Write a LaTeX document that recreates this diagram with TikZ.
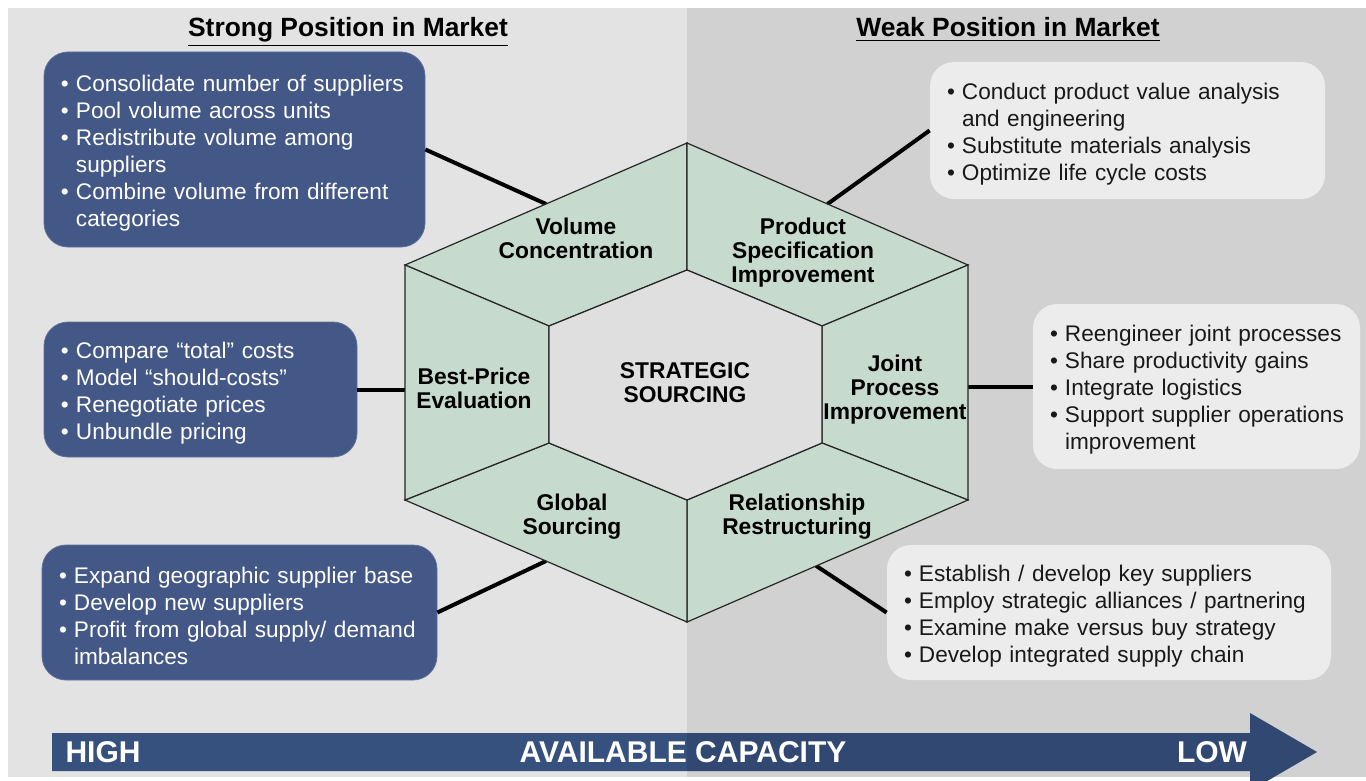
\documentclass[tikz,border=0pt]{standalone}
\usepackage{fontspec}
\setmainfont{Liberation Sans}
\usetikzlibrary{calc}

\definecolor{bgleft}{HTML}{E3E3E3}
\definecolor{bgright}{HTML}{D1D1D1}
\definecolor{boxblue}{HTML}{445887}
\definecolor{boxgray}{HTML}{ECECEC}
\definecolor{hexgreen}{HTML}{C6DACE}
\definecolor{hexcore}{HTML}{DFDFDF}
\definecolor{arrowblue}{HTML}{37517F}

% bullet line and indented continuation line
\newcommand\bitem[1]{\mbox{\makebox[7.5pt][l]{•}#1}}
\newcommand\bcont[1]{\mbox{\hspace*{7.5pt}#1}}

\begin{document}
\begin{tikzpicture}[x=0.5pt,y=-0.5pt,
  darkbox/.style={rounded corners=12pt,fill=boxblue,draw=boxblue!85!white,text=white,
    align=left,inner xsep=8.5pt,font=\fontsize{11.3}{13.5}\selectfont,
    execute at begin node={\rule{0pt}{11.8pt}}},
  lightbox/.style={darkbox,fill=boxgray,draw=none,text=black!90},
  seg/.style={fill=hexgreen,draw=black!85,line width=0.6pt},
  hexlabel/.style={align=center,font=\bfseries\fontsize{11.4}{12}\selectfont},
  link/.style={line width=2pt,black},
  title/.style={anchor=base,font=\bfseries\fontsize{13.2}{15}\selectfont},
  scale label/.style={text=white,font=\bfseries\fontsize{15}{17}\selectfont}]
\useasboundingbox (0,0) rectangle (1366,781);
\fill[white] (0,0) rectangle (1366,781);

% two market halves
\fill[bgleft] (8,8) rectangle (687,777);
\fill[bgright] (687,8) rectangle (1366,777);
\node[title] (strong) at (348,37) {\underline{Strong Position in Market}};
\node[title] (weak) at (1008,37) {\underline{Weak Position in Market}};

% lever boxes
\node[darkbox,text width=173.5pt,minimum height=97.5pt] (boxA) at (234.5,149.5)
  {\bitem{Consolidate number of suppliers}\\\bitem{Pool volume across units}\\
   \bitem{Redistribute volume among}\\\bcont{suppliers}\\
   \bitem{Combine volume from different}\\\bcont{categories}};
\node[darkbox,text width=139.5pt,minimum height=67.5pt] (boxB) at (200.5,389.5)
  {\bitem{Compare “total” costs}\\\bitem{Model “should-costs”}\\
   \bitem{Renegotiate prices}\\\bitem{Unbundle pricing}};
\node[darkbox,text width=180.5pt,minimum height=67.5pt] (boxC) at (239.5,612.5)
  {\bitem{Expand geographic supplier base}\\\bitem{Develop new suppliers}\\
   \bitem{Profit from global supply/ demand}\\\bcont{imbalances}};
\node[lightbox,text width=180.5pt,minimum height=68.5pt] (boxD) at (1127.5,130.5)
  {\bitem{Conduct product value analysis}\\\bcont{and engineering}\\
   \bitem{Substitute materials analysis}\\\bitem{Optimize life cycle costs}};
\node[lightbox,text width=146.5pt,minimum height=82.5pt] (boxE) at (1196.5,386.5)
  {\bitem{Reengineer joint processes}\\\bitem{Share productivity gains}\\
   \bitem{Integrate logistics}\\\bitem{Support supplier operations}\\\bcont{improvement}};
\node[lightbox,text width=205pt,minimum height=67.5pt] (boxF) at (1109,612.5)
  {\bitem{Establish / develop key suppliers}\\\bitem{Employ strategic alliances / partnering}\\
   \bitem{Examine make versus buy strategy}\\\bitem{Develop integrated supply chain}};

% hexagon corners, outer ring and core
\coordinate (o1) at (687,143);
\coordinate (o2) at (968,265);
\coordinate (o3) at (968,500);
\coordinate (o4) at (687,622);
\coordinate (o5) at (405,500);
\coordinate (o6) at (405,265);
\coordinate (i1) at (687,270);
\coordinate (i2) at (822,326);
\coordinate (i3) at (822,443);
\coordinate (i4) at (687,500);
\coordinate (i5) at (549,443);
\coordinate (i6) at (549,326);

% where the links meet the hexagon
\coordinate (vc) at ($(o6)!.5!(o1)$);
\coordinate (ps) at ($(o1)!.5!(o2)$);
\coordinate (gs) at ($(o5)!.5!(o4)$);
\coordinate (rr) at ($(o3)!.54!(o4)$);

\draw[link] (boxA.east) -- (vc);
\draw[link] (boxD.west) -- (ps);
\draw[link] (boxB.east) -- (boxB.east -| o5);
\draw[link] (boxE.west) -- (boxE.west -| o2);
\draw[link] (boxC.east) -- (gs);
\draw[link] (boxF.west) -- (rr);

\draw[seg] (o6) -- (o1) -- (i1) -- (i6) -- cycle;
\draw[seg] (o1) -- (o2) -- (i2) -- (i1) -- cycle;
\draw[seg] (o2) -- (o3) -- (i3) -- (i2) -- cycle;
\draw[seg] (o3) -- (o4) -- (i4) -- (i3) -- cycle;
\draw[seg] (o4) -- (o5) -- (i5) -- (i4) -- cycle;
\draw[seg] (o5) -- (o6) -- (i6) -- (i5) -- cycle;
\draw[seg,fill=hexcore] (i1) -- (i2) -- (i3) -- (i4) -- (i5) -- (i6) -- cycle;

\node[hexlabel] (volume) at (576,238) {Volume\\Concentration};
\node[hexlabel] (product) at (803,253) {Product\\Specification\\Improvement};
\node[hexlabel] (joint) at (895,390) {Joint\\Process\\Improvement};
\node[hexlabel] (relation) at (797,517) {Relationship\\Restructuring};
\node[hexlabel] (global) at (572,517) {Global\\Sourcing};
\node[hexlabel] (bestprice) at (474,388) {Best-Price\\Evaluation};
\node[hexlabel] (core) at (685,383) {STRATEGIC\\SOURCING};

% capacity arrow
\fill[arrowblue] (52,733) -- (1250,733) -- (1250,713) -- (1317,752)
  -- (1250,791) -- (1250,771) -- (52,771) -- cycle;
\begin{scope}
\clip (52,733) -- (1250,733) -- (1250,713) -- (1317,752)
  -- (1250,791) -- (1250,771) -- (52,771) -- cycle;
\fill[black,opacity=0.1] (687,700) rectangle (1366,800);
\end{scope}
\node[scale label] (high) at (103,752) {HIGH};
\node[scale label] (capacity) at (683,752) {AVAILABLE CAPACITY};
\node[scale label] (low) at (1212,752) {LOW};
\end{tikzpicture}
\end{document}
